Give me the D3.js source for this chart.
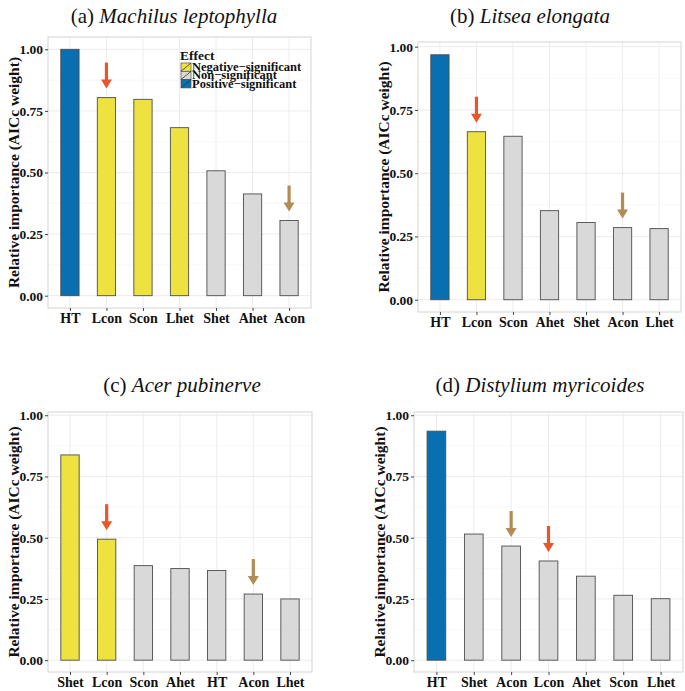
<!DOCTYPE html>
<html><head><meta charset="utf-8">
<script src="https://cdn.jsdelivr.net/npm/d3@7"></script>
<style>body{margin:0;background:#fff}svg{display:block}</style>
</head><body>
<script>
// ---- data ----
const catsA = ["HT","Lcon","Scon","Lhet","Shet","Ahet","Acon"];
const valsA = [1.00,0.804,0.797,0.682,0.507,0.413,0.305];
const effA  = ["pos","neg","neg","neg","non","non","non"];
const arrowCatsA = ["Lcon","Acon"]; const arrowTypesA = ["strong","weak"];

const catsB = ["HT","Lcon","Scon","Ahet","Shet","Acon","Lhet"];
const valsB = [0.968,0.664,0.646,0.352,0.305,0.285,0.281];
const effB  = ["pos","neg","non","non","non","non","non"];
const arrowCatsB = ["Lcon","Acon"]; const arrowTypesB = ["strong","weak"];

const catsC = ["Shet","Lcon","Scon","Ahet","HT","Acon","Lhet"];
const valsC = [0.838,0.494,0.386,0.374,0.366,0.270,0.250];
const effC  = ["neg","neg","non","non","non","non","non"];
const arrowCatsC = ["Lcon","Acon"]; const arrowTypesC = ["strong","weak"];

const catsD = ["HT","Shet","Acon","Lcon","Ahet","Scon","Lhet"];
const valsD = [0.935,0.515,0.466,0.405,0.343,0.265,0.251];
const effD  = ["pos","non","non","non","non","non","non"];
const arrowCatsD = ["Acon","Lcon"]; const arrowTypesD = ["weak","strong"];

const yTicks = [0,0.25,0.5,0.75,1.0];
const effectKeys = ["neg","non","pos"];
const effectLabels = ["Negative\u2212significant","Non\u2212significant","Positive\u2212significant"];
const titlePrefix = ["(a) ","(b) ","(c) ","(d) "];
const species = ["Machilus leptophylla","Litsea elongata","Acer pubinerve","Distylium myricoides"];

// ---- styles / layout ----
const fillColor = d3.scaleOrdinal().domain(effectKeys).range(["#EEE240","#D9D9D9","#0870B0"]);
const arrowColor = d3.scaleOrdinal().domain(["strong","weak"]).range(["#E8572B","#B28B55"]);
const serif = "Liberation Serif, Times New Roman, serif";

const layout = [
  {x0:48,x1:311,y0:37,y1:308,ymax:1.0,tx:174,ty:23,yt:14},
  {x0:418,x1:681,y0:42,y1:312,ymax:0.97,tx:530,ty:23,yt:384},
  {x0:48,x1:312,y0:412,y1:672,ymax:0.965,tx:182,ty:392,yt:14},
  {x0:414,x1:683,y0:412,y1:672,ymax:0.965,tx:540,ty:392,yt:380}
];
const panelData = [
  {cats:catsA,vals:valsA,eff:effA,ac:arrowCatsA,at:arrowTypesA},
  {cats:catsB,vals:valsB,eff:effB,ac:arrowCatsB,at:arrowTypesB},
  {cats:catsC,vals:valsC,eff:effC,ac:arrowCatsC,at:arrowTypesC},
  {cats:catsD,vals:valsD,eff:effD,ac:arrowCatsD,at:arrowTypesD}
];

const svg = d3.select("body").append("svg").attr("width",685).attr("height",691)
  .style("font-family",serif);

panelData.forEach((pd,i)=>{
  const L = layout[i];
  const ext = 0.05*L.ymax;
  const y = d3.scaleLinear().domain([-ext, L.ymax+ext]).range([L.y1, L.y0]);
  // ggplot discrete axis: expansion 0.6 units each side, bar width 0.5
  const n = pd.cats.length;
  const unit = (L.x1-L.x0)/(n-1+1.2);
  const xc = d3.scalePoint().domain(pd.cats).range([L.x0+0.6*unit, L.x1-0.6*unit]);
  const bw = 0.5*unit;
  const g = svg.append("g");

  // panel background & grid
  g.append("rect").attr("x",L.x0).attr("y",L.y0).attr("width",L.x1-L.x0).attr("height",L.y1-L.y0).attr("fill","#fff");
  const minor = [];
  for(let k=0;k<yTicks.length-1;k++) minor.push((yTicks[k]+yTicks[k+1])/2);
  g.selectAll(".mn").data(minor).join("line")
    .attr("x1",L.x0).attr("x2",L.x1).attr("y1",d=>y(d)).attr("y2",d=>y(d))
    .attr("stroke","#f4f4f4").attr("stroke-width",0.6);
  g.selectAll(".mj").data(yTicks.filter(v=>v>=y.domain()[0]&&v<=y.domain()[1])).join("line")
    .attr("x1",L.x0).attr("x2",L.x1).attr("y1",d=>y(d)).attr("y2",d=>y(d))
    .attr("stroke","#ececec").attr("stroke-width",1);
  g.selectAll(".vx").data(pd.cats).join("line")
    .attr("x1",d=>xc(d)).attr("x2",d=>xc(d)).attr("y1",L.y0).attr("y2",L.y1)
    .attr("stroke","#ececec").attr("stroke-width",1);

  // bars
  g.selectAll(".bar").data(pd.cats).join("rect")
    .attr("x",d=>xc(d)-bw/2).attr("width",bw)
    .attr("y",(d,j)=>y(pd.vals[j])).attr("height",(d,j)=>y(0)-y(pd.vals[j]))
    .attr("fill",(d,j)=>fillColor(pd.eff[j]))
    .attr("stroke","#4d4d4d").attr("stroke-width",0.9);

  // border
  g.append("rect").attr("x",L.x0).attr("y",L.y0).attr("width",L.x1-L.x0).attr("height",L.y1-L.y0)
    .attr("fill","none").attr("stroke","#d4d4d4").attr("stroke-width",1);

  // y axis
  const ya = d3.axisLeft(y).tickValues(yTicks.filter(v=>v<=y.domain()[1])).tickFormat(d3.format(".2f")).tickSize(3).tickPadding(2);
  const yg = g.append("g").attr("transform",`translate(${L.x0},0)`).call(ya);
  yg.attr("font-family",serif);
  yg.select(".domain").remove();
  yg.selectAll(".tick line").attr("stroke","#444");
  yg.selectAll("text").style("font-family",serif).attr("font-weight","bold").attr("font-size",13.5).attr("fill","#111");

  // x axis
  const xa = d3.axisBottom(xc).tickSize(3).tickPadding(2);
  const xg = g.append("g").attr("transform",`translate(0,${L.y1})`).call(xa);
  xg.attr("font-family",serif);
  xg.select(".domain").remove();
  xg.selectAll(".tick line").attr("stroke","#444");
  xg.selectAll("text").style("font-family",serif).attr("font-weight","bold").attr("font-size",14).attr("fill","#111");

  // y title
  g.append("text").attr("transform",`translate(${L.yt+5},${(L.y0+L.y1)/2}) rotate(-90)`)
    .attr("text-anchor","middle").attr("font-weight","bold").attr("font-size",15.5).attr("fill","#111")
    .style("font-family",serif)
    .text("Relative importance (AICc weight)");

  // title
  const t = g.append("text").attr("x",L.tx).attr("y",L.ty).attr("text-anchor","middle").attr("font-size",21).attr("fill","#111").style("font-family",serif);
  t.append("tspan").text(titlePrefix[i]);
  t.append("tspan").attr("font-style","italic").text(species[i]);

  // arrows
  pd.ac.forEach((c,k)=>{
    const j = pd.cats.indexOf(c);
    const cx = xc(c), top = y(pd.vals[j]);
    const tip = top-9, start = top-35, headLen = 9, headW = 5.5;
    const col = arrowColor(pd.at[k]);
    g.append("line").attr("x1",cx).attr("x2",cx).attr("y1",start).attr("y2",tip-headLen+1)
      .attr("stroke",col).attr("stroke-width",3.2);
    g.append("path").attr("d",`M${cx-headW},${tip-headLen}L${cx+headW},${tip-headLen}L${cx},${tip}Z`).attr("fill",col);
  });

  // legend in panel a
  if(i===0){
    const lx = 181, ly = 52;
    g.append("text").attr("x",lx-1).attr("y",ly+8).attr("font-weight","bold").attr("font-size",13.5).attr("fill","#111").style("font-family",serif).text("Effect");
    effectKeys.forEach((e,k)=>{
      const ky = ly+11+k*8.3;
      g.append("rect").attr("x",lx).attr("y",ky).attr("width",10).attr("height",8.3)
        .attr("fill",fillColor(e)).attr("stroke","#4d4d4d").attr("stroke-width",0.7);
      g.append("line").attr("x1",lx).attr("y1",ky+8.3).attr("x2",lx+10).attr("y2",ky)
        .attr("stroke","#333").attr("stroke-width",0.8);
      g.append("text").attr("x",lx+11).attr("y",ky+8).attr("font-weight","bold").attr("font-size",12.5).attr("fill","#111").style("font-family",serif).text(effectLabels[k]);
    });
  }
});
</script>
</body></html>
